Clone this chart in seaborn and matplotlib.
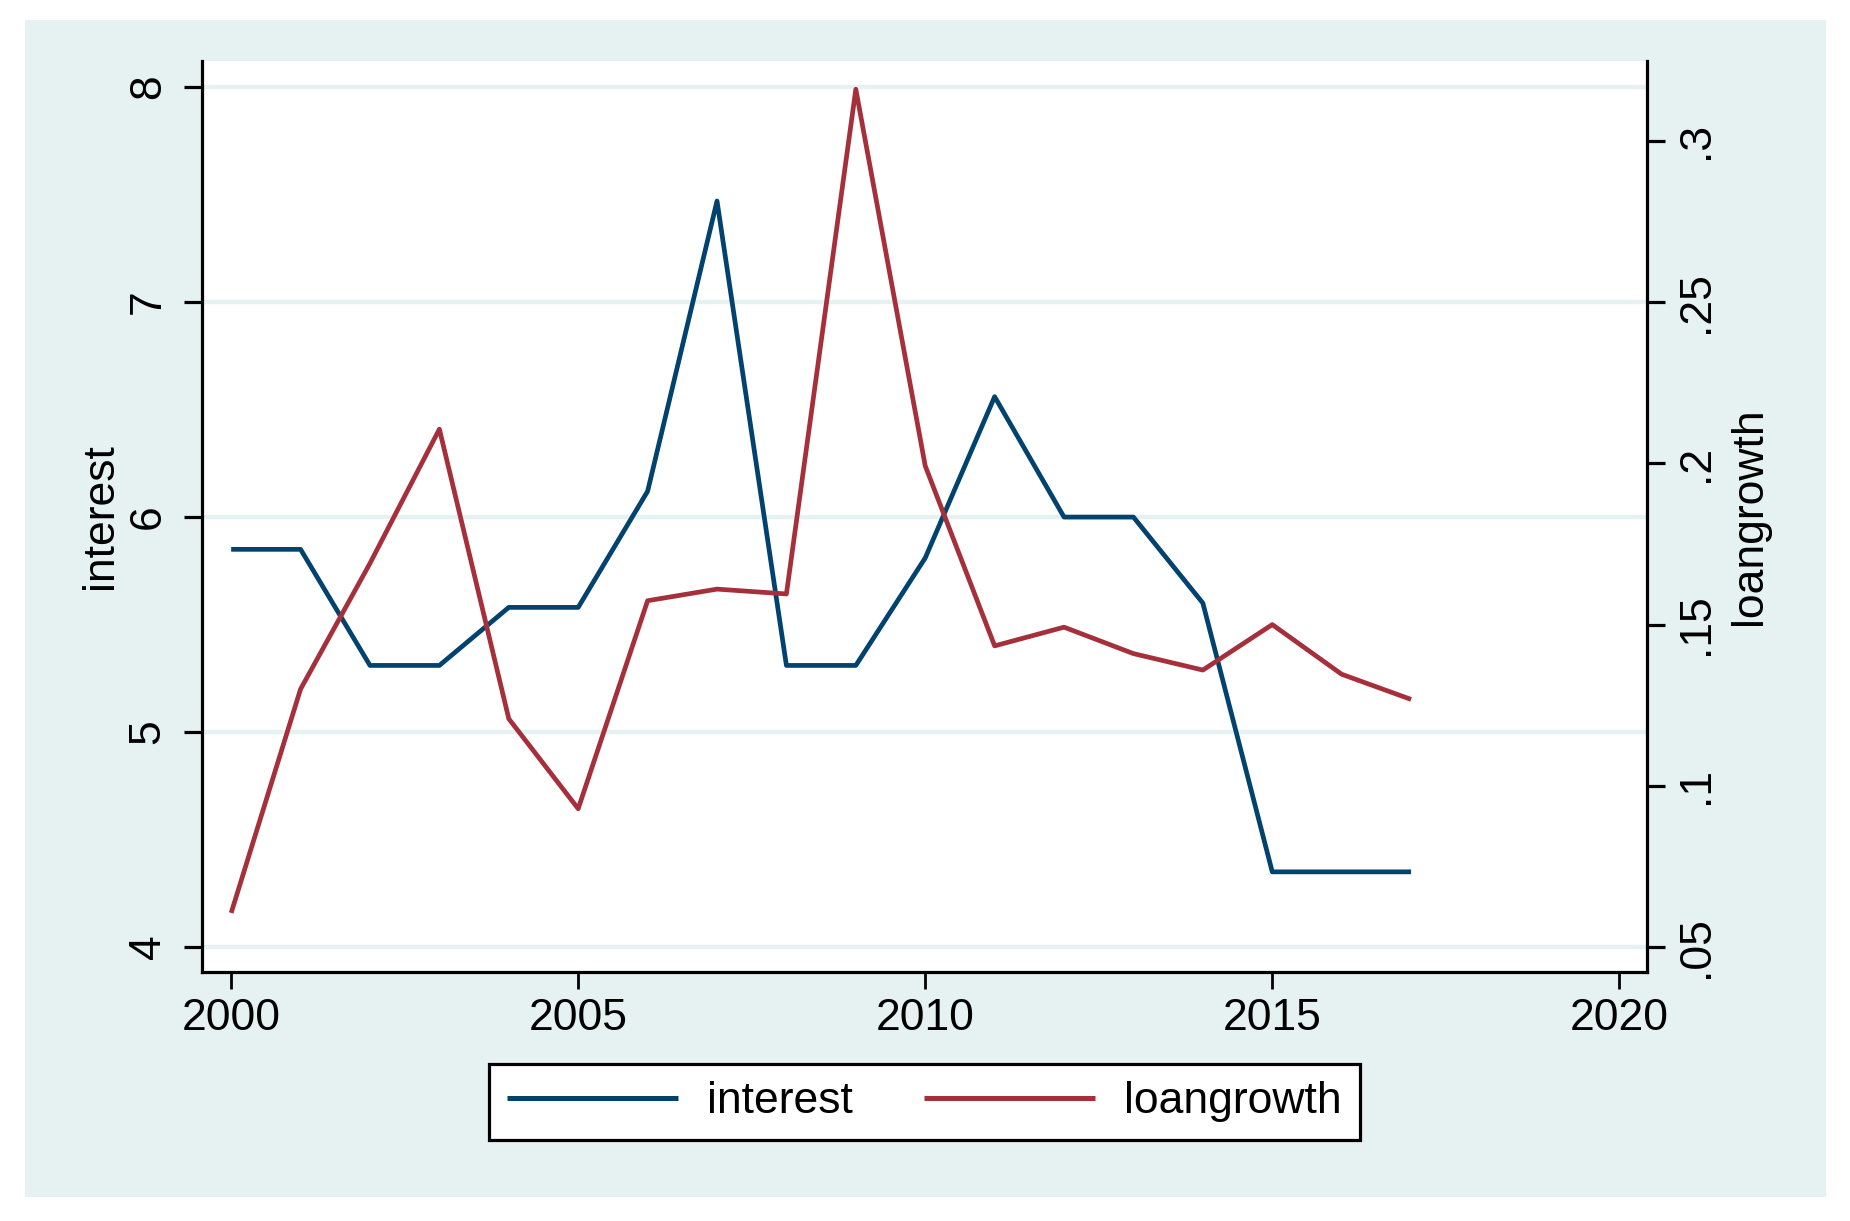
import pandas as pd
import matplotlib
matplotlib.use("Agg")
import matplotlib.pyplot as plt
import seaborn as sns
from matplotlib.patches import Rectangle

# donnees
years = list(range(2000, 2018))
interest = [5.85, 5.85, 5.31, 5.31, 5.58, 5.58, 6.12, 7.47, 5.31, 5.31,
            5.81, 6.56, 6.00, 6.00, 5.60, 4.35, 4.35, 4.35]
loangrowth = [0.0606, 0.130, 0.169, 0.2106, 0.1208, 0.0929, 0.1574, 0.161, 0.1595,
              0.316, 0.1992, 0.1434, 0.1492, 0.141, 0.1359, 0.150, 0.1346, 0.1268]

left_ticks = [4, 5, 6, 7, 8]
right_ticks = [0.05, 0.10, 0.15, 0.20, 0.25, 0.30]
right_labels = [".05", ".1", ".15", ".2", ".25", ".3"]
x_ticks = [2000, 2005, 2010, 2015, 2020]

df = pd.DataFrame({"year": years, "interest": interest, "loangrowth": loangrowth})

navy = "#01426F"
maroon = "#A5303B"
bg = "#E6F1F2"

sns.set_theme(style="white")
plt.rcParams["font.family"] = ["Liberation Sans", "DejaVu Sans"]
plt.rcParams["text.color"] = "black"
plt.rcParams["axes.labelcolor"] = "black"
plt.rcParams["xtick.color"] = "black"
plt.rcParams["ytick.color"] = "black"

fig = plt.figure(figsize=(18.5, 12.21), dpi=100, facecolor="white")
fig.patches.append(Rectangle((0.0135, 0.0197), 0.9735, 0.9639, transform=fig.transFigure,
                             facecolor=bg, edgecolor="none", zorder=-10))

ax = fig.add_axes([0.1092, 0.2039, 0.8903 - 0.1092, 0.95 - 0.2039])
ax.set_facecolor("white")
ax2 = ax.twinx()

sns.lineplot(data=df, x="year", y="interest", ax=ax, color=navy, linewidth=3.4,
             label="interest", legend=False, solid_capstyle="butt")
sns.lineplot(data=df, x="year", y="loangrowth", ax=ax2, color=maroon, linewidth=3.4,
             label="loangrowth", legend=False, solid_capstyle="butt")

ylo, yhi = 3.884, 8.121
ax.set_ylim(ylo, yhi)
# axe droit aligne : .05 <-> 4 et .25 <-> 7
ax2.set_ylim(0.05 + (ylo - 4) / 15, 0.05 + (yhi - 4) / 15)
ax.set_xlim(1999.58, 2020.4)

ax.set_xticks(x_ticks)
ax.set_yticks(left_ticks)
ax.set_yticklabels([str(t) for t in left_ticks])
ax2.set_yticks(right_ticks)
ax2.set_yticklabels(right_labels)

for t in left_ticks:
    ax.axhline(t, color=bg, linewidth=3.2, zorder=0.5)

for s in ["top", "right"]:
    ax.spines[s].set_visible(False)
for s in ["top", "left", "bottom"]:
    ax2.spines[s].set_visible(False)
for a, s in [(ax, "left"), (ax, "bottom"), (ax2, "right")]:
    a.spines[s].set_color("black")
    a.spines[s].set_linewidth(2.3)

fs = 32
ax.tick_params(axis="x", direction="out", length=12, width=2.0, color="black",
               labelsize=fs, pad=7, bottom=True)
ax.tick_params(axis="y", direction="out", length=13, width=2.3, color="black",
               labelsize=fs, pad=11, labelrotation=90, left=True)
ax2.tick_params(axis="y", direction="out", length=13, width=2.3, color="black",
                labelsize=fs, pad=8, labelrotation=90, right=True)
for lab in ax.get_yticklabels() + ax2.get_yticklabels():
    lab.set_va("center")

ax.set_xlabel("")
ax.set_ylabel("interest", fontsize=fs, va="center", ha="center")
ax.yaxis.set_label_coords(-0.0706, 0.5)
ax2.set_ylabel("loangrowth", fontsize=fs, va="center", ha="center", rotation=90)
ax2.yaxis.set_label_coords(1.0706, 0.5)

h1, l1 = ax.get_legend_handles_labels()
h2, l2 = ax2.get_legend_handles_labels()
leg = fig.legend(h1 + h2, l1 + l2, loc="center", bbox_to_anchor=(0.4997, 0.0975),
                 ncol=2, fontsize=fs, frameon=True, fancybox=False, framealpha=1,
                 edgecolor="black", handlelength=3.85, handletextpad=0.65,
                 columnspacing=1.6, borderpad=0.4)
leg.get_frame().set_linewidth(2.3)
for line in leg.get_lines():
    line.set_linewidth(3.6)

fig.savefig("out.png", dpi=100, facecolor="white")
